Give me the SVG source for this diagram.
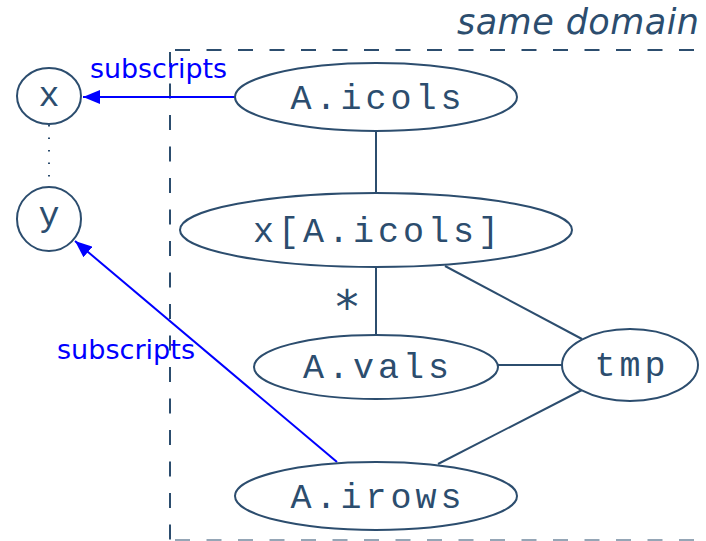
<svg xmlns="http://www.w3.org/2000/svg" width="706" height="541" viewBox="0 0 706 541">
<defs>
<style>
.n{fill:#fff;stroke:#2c4d6e;stroke-width:2}
.e{stroke:#2c4d6e;stroke-width:2;fill:none}
.b{stroke:#0000ff;stroke-width:2;fill:none}
.box{stroke:#2c4d6e;stroke-width:2;fill:none;stroke-dasharray:15 16.5}
.t{font-family:"Liberation Mono","DejaVu Sans Mono",monospace;font-size:35px;letter-spacing:4px;fill:#2c4d6e;text-anchor:middle}
.lbl{font-family:"DejaVu Sans",sans-serif;font-size:26px;fill:#0000ff}
.sd{font-family:"DejaVu Sans",sans-serif;font-size:35px;font-style:italic;fill:#2c4d6e;text-anchor:end}
.star{font-family:"DejaVu Sans",sans-serif;font-size:46px;fill:#2c4d6e;text-anchor:middle}
</style>
<marker id="ah" markerUnits="userSpaceOnUse" markerWidth="18" markerHeight="14" refX="17" refY="7" orient="auto">
<path d="M0,0 L17,7 L0,14 z" fill="#0000ff"/>
</marker>
</defs>
<rect width="706" height="541" fill="#fff"/>
<g id="domain">
<line class="box" x1="175" y1="50" x2="710" y2="50"/>
<line class="box" x1="170" y1="52" x2="170" y2="540"/>
<line class="box" x1="175" y1="540" x2="710" y2="540" stroke-opacity="0.5"/>
<text class="sd" x="699" y="34" textLength="242" lengthAdjust="spacing">same domain</text>
</g>
<g id="connectors">
<line class="e" x1="49" y1="125" x2="49" y2="186" stroke-dasharray="1.5 11" stroke-width="1.5"/>
<line class="b" x1="235" y1="97" x2="83" y2="97" marker-end="url(#ah)"/>
<line class="b" x1="337" y1="462" x2="75" y2="241" marker-end="url(#ah)"/>
<line class="e" x1="376" y1="131" x2="376" y2="193"/>
<line class="e" x1="376" y1="267" x2="376" y2="335"/>
<line class="e" x1="445" y1="266" x2="582" y2="339"/>
<line class="e" x1="498" y1="365" x2="562" y2="365"/>
<line class="e" x1="582" y1="390" x2="438" y2="464"/>
<text class="star" x="347" y="323">*</text>
<text class="lbl" x="90" y="78" textLength="137" lengthAdjust="spacingAndGlyphs">subscripts</text>
<text class="lbl" x="57" y="359" textLength="138" lengthAdjust="spacingAndGlyphs">subscripts</text>
</g>
<g id="x">
<ellipse class="n" cx="49" cy="96" rx="32" ry="28"/>
<text class="t" x="51" y="106">x</text>
</g>
<g id="y">
<ellipse class="n" cx="49" cy="219" rx="32" ry="32"/>
<text class="t" x="51" y="226">y</text>
</g>
<g id="A_icols">
<ellipse class="n" cx="376" cy="97" rx="141" ry="34"/>
<text class="t" x="378" y="109">A.icols</text>
</g>
<g id="x_A_icols">
<ellipse class="n" cx="376" cy="230" rx="196" ry="37"/>
<text class="t" x="378" y="242">x[A.icols]</text>
</g>
<g id="A_vals">
<ellipse class="n" cx="376" cy="367" rx="122" ry="32"/>
<text class="t" x="378" y="378">A.vals</text>
</g>
<g id="tmp">
<ellipse class="n" cx="630" cy="365" rx="68" ry="36"/>
<text class="t" x="632" y="376">tmp</text>
</g>
<g id="A_irows">
<ellipse class="n" cx="376" cy="496" rx="141" ry="34"/>
<text class="t" x="378" y="508">A.irows</text>
</g>
</svg>
